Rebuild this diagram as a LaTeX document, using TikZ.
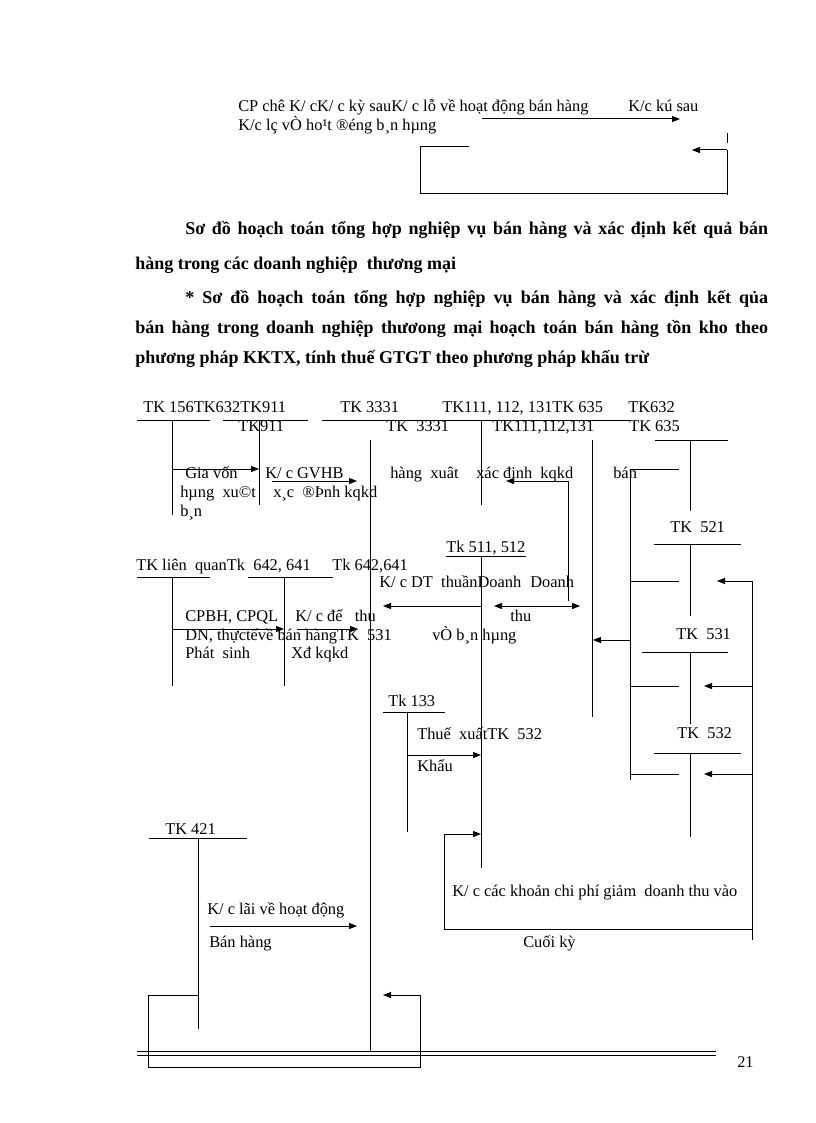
\documentclass[tikz,border=0pt]{standalone}
\usepackage{fontspec}
\setmainfont{Liberation Serif}
\usetikzlibrary{arrows.meta}
\begin{document}
\begin{tikzpicture}[x=0.75pt,y=-0.75pt,
  ln/.style={line width=0.75pt},
  tip/.tip={Triangle[length=6pt,width=4.5pt]},
  ar/.style={ln,-tip},
  lbl/.style={anchor=base west,inner sep=0pt,font=\fontsize{12.3}{14}\selectfont},
  para/.style={anchor=base west,inner sep=0pt,font=\fontsize{13.5}{16}\selectfont\bfseries}]
\useasboundingbox[fill=white] (0,0) rectangle (816,1123);

% ---------- top fragment ----------
\node[lbl] (t1) at (238,112) {CP chê K/ cK/ c kỳ sauK/ c lỗ về hoạt động bán hàng};
\node[lbl] (t2) at (628,112) {K/c kú sau};
\node[lbl] (t3) at (238,131) {K/c lç vÒ ho¹t ®éng b¸n hµng};
\draw[ar] (482,119) -- (680,119);
\draw[ln] (727,133) -- (727,143);
\draw[ar] (727,150) -- (692,150);
\draw[ln] (727,150) -- (727,195);
\draw[ln] (469,147) -- (420,147) -- (420,194) -- (727,194);

% ---------- paragraph ----------
\node[para] (p1) at (185,234) {\makebox[437.25pt][s]{Sơ đồ hoạch toán tổng hợp nghiệp vụ bán hàng và xác định kết quả bán}};
\node[para] (p2) at (135,269) {hàng trong các doanh nghiệp\ \ thương mại};
\node[para] (p3) at (185,303) {\makebox[437.25pt][s]{* Sơ đồ hoạch toán tổng hợp nghiệp vụ bán hàng và xác định kết qủa}};
\node[para] (p4) at (135,333) {\makebox[474.75pt][s]{bán hàng trong doanh nghiệp thươong mại hoạch toán bán hàng tồn kho theo}};
\node[para] (p5) at (135,363) {phương pháp KKTX, tính thuế GTGT theo phương pháp khấu trừ};

% ---------- diagram labels ----------
\node[lbl] (a1) at (143,412) {TK 156TK632TK911};
\node[lbl] (a2) at (340,412) {TK 3331};
\node[lbl] (a3) at (442,412) {TK111, 112, 131TK 635};
\node[lbl] (a4) at (628,412) {TK632};
\node[lbl] (b1) at (238,431) {TK911};
\node[lbl] (b2) at (386,431) {TK\ \ 3331};
\node[lbl] (b3) at (492,431) {TK111,112,131};
\node[lbl] (b4) at (629,431) {TK 635};
\node[lbl] (c1) at (185,478) {Gia vốn};
\node[lbl] (c2) at (265,478) {K/ c GVHB};
\node[lbl] (c3) at (390,478) {hàng\ \ xuât};
\node[lbl] (c4) at (476,478) {xác\ định\ \ kqkd};
\node[lbl] (c5) at (613,478) {bán};
\node[lbl] (d1) at (180,497) {hµng\ \ xu©t};
\node[lbl] (d2) at (273,497) {x¸c\ \ ®Þnh kqkd};
\node[lbl] (d3) at (180,516) {b¸n};
\node[lbl] (e1) at (670,532) {TK\ \ 521};
\node[lbl] (e2) at (446,552) {Tk 511, 512};
\node[lbl] (e3) at (136,570) {TK liên\ \ quanTk\ \ 642, 641};
\node[lbl] (e4) at (332,570) {Tk 642,641};
\node[lbl] (f1) at (379,587) {K/ c DT\ \ thuầnDoanh};
\node[lbl] (f2) at (530,587) {Doanh};
\node[lbl] (g1) at (185,621) {CPBH, CPQL};
\node[lbl] (g2) at (295,621) {K/ c để\ \ \ thu};
\node[lbl] (g3) at (510,621) {thu};
\node[lbl] (h1) at (185,640) {DN, thựctếvề\ bán hàngTK\ \ 531};
\node[lbl] (h2) at (432,640) {vÒ b¸n hµng};
\node[lbl] (h3) at (676,639) {TK\ \ 531};
\node[lbl] (i1) at (185,658) {Phát\ \ sinh};
\node[lbl] (i2) at (291,658) {Xđ kqkd};
\node[lbl] (j1) at (388,706) {Tk 133};
\node[lbl] (j2) at (417,739) {Thuế\ \ xuấtTK\ \ 532};
\node[lbl] (j3) at (677,738) {TK\ \ 532};
\node[lbl] (j4) at (417,771) {Khẩu};
\node[lbl] (k1) at (165,834) {TK 421};
\node[lbl] (k2) at (452,896) {K/ c các khoản chi phí giảm\ \ doanh thu vào};
\node[lbl] (k3) at (207,914) {K/ c lãi về hoạt động};
\node[lbl] (k4) at (209,947) {Bán hàng};
\node[lbl] (k5) at (523,947) {Cuối kỳ};
\node[lbl] (pg) at (737,1067) {21};

% ---------- diagram lines ----------
\draw[ln] (137,420) -- (210,420);
\draw[ln] (223,420) -- (308,420);
\draw[ln] (322,420) -- (630,420);
\draw[ln] (172,420) -- (172,515);
\draw[ln] (259,420) -- (259,505);
\draw[ln] (370,440) -- (370,1052);
\draw[ln] (481,420) -- (481,505);
\draw[ln] (592,440) -- (592,717);
% TK632 / 635
\draw[ln] (655,440) -- (728,440);
\draw[ln] (690,440) -- (690,511);
\draw[ln] (679,469) -- (630,469) -- (630,780);
\draw[ar] (172,469) -- (259,469);
\draw[ar] (272,481) -- (357,481);
\draw[ar] (568,601) -- (568,481) -- (506,481);
% TK521
\draw[ln] (654,544) -- (741,544);
\draw[ln] (690,544) -- (690,616);
\draw[ln] (630,581) -- (679,581);
\draw[ln] (752,581) -- (752,940);
\draw[ar] (752,581) -- (717,581);
% TK531
\draw[ln] (642,652) -- (728,652);
\draw[ln] (690,652) -- (690,724);
\draw[ln] (630,686) -- (679,686);
\draw[ar] (752,686) -- (704,686);
% TK532
\draw[ln] (654,753) -- (741,753);
\draw[ln] (690,753) -- (690,837);
\draw[ln] (630,774) -- (679,774);
\draw[ar] (752,774) -- (704,774);
\draw[ar] (630,640) -- (593,640);
% Tk511
\draw[ln] (446,556) -- (526,556);
\draw[ln] (481,556) -- (481,868);
\draw[ar] (481,606) -- (383,606);
\draw[ln,tip-tip] (494,606) -- (580,606);
\draw[ar] (752,929) -- (444,929) -- (444,834) -- (481,834);
% Tk642
\draw[ln] (137,577) -- (210,577);
\draw[ln] (248,577) -- (333,577);
\draw[ln] (172,577) -- (172,686);
\draw[ln] (284,577) -- (284,686);
\draw[ar] (172,629) -- (284,629);
\draw[ar] (297,629) -- (358,629);
% Tk133
\draw[ln] (383,712) -- (445,712);
\draw[ln] (407,712) -- (407,832);
\draw[ar] (407,755) -- (481,755);
% TK421
\draw[ln] (149,838) -- (247,838);
\draw[ln] (198,838) -- (198,1029);
\draw[ar] (210,926) -- (357,926);
\draw[ar] (198,995) -- (148,995) -- (148,1067) -- (420,1067) -- (420,995) -- (383,995);
% footer rule
\draw[ln] (137,1051) -- (716,1051);
\draw[ln] (137,1055) -- (716,1055);
\end{tikzpicture}
\end{document}
